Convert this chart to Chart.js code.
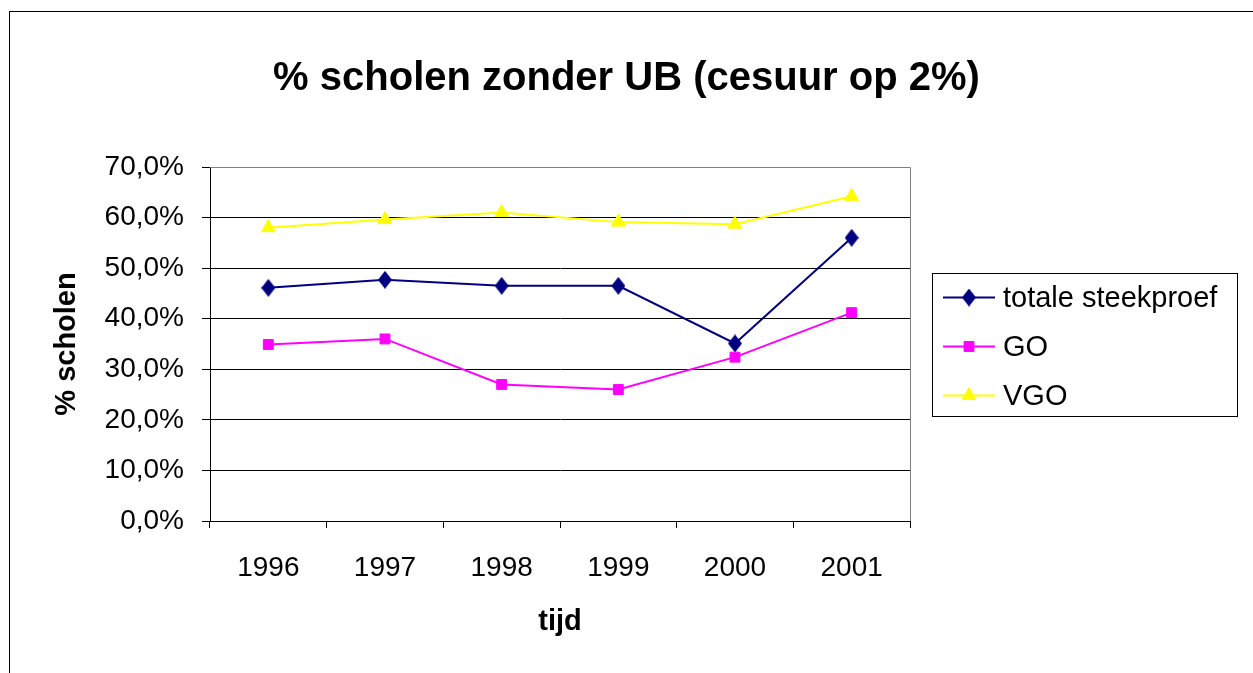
<!DOCTYPE html>
<html>
<head>
<meta charset="utf-8">
<script src="https://cdn.jsdelivr.net/npm/chart.js@4.4.1/dist/chart.umd.min.js"></script>
<style>
    html, body { margin: 0; padding: 0; background: #fff; overflow: hidden; }
    #wrap { position: relative; width: 1253px; height: 673px; }
    #frame {
        position: absolute; left: 9px; top: 11px; width: 1300px; height: 700px;
        border-left: 1px solid #000; border-top: 1px solid #000;
    }
    canvas { position: absolute; left: 0; top: 0; }
</style>
</head>
<body>
<div id="wrap">
    <div id="frame"></div>
    <canvas id="chart" width="1253" height="673"></canvas>
</div>
<script>
const years = ['1996', '1997', '1998', '1999', '2000', '2001'];
const totaal = [46.1, 47.7, 46.5, 46.5, 35.1, 56.0];
const go = [34.9, 36.0, 27.0, 26.0, 32.4, 41.2];
const vgo = [58.0, 59.6, 61.0, 59.1, 58.7, 64.2];
const seriesNames = ['totale steekproef', 'GO', 'VGO'];

const FONT = 'Arial, "Liberation Sans", sans-serif';

// Excel style diamond: a bit taller than wide
function diamond(color) {
    const c = document.createElement('canvas');
    c.width = 14; c.height = 18;
    const g = c.getContext('2d');
    g.fillStyle = color;
    g.beginPath();
    g.moveTo(7, 0); g.lineTo(14, 9); g.lineTo(7, 18); g.lineTo(0, 9);
    g.closePath();
    g.fill();
    return c;
}

// plot area border (grey) like the old Excel charts
const plotBorder = {
    id: 'plotBorder',
    afterDraw(chart) {
        const { ctx, chartArea: a } = chart;
        ctx.save();
        ctx.strokeStyle = '#808080';
        ctx.lineWidth = 1;
        ctx.beginPath();
        ctx.moveTo(a.left, a.top + 0.5);
        ctx.lineTo(a.right + 0.5, a.top + 0.5);
        ctx.lineTo(a.right + 0.5, a.bottom);
        ctx.stroke();
        ctx.restore();
    }
};

// boxed legend to the right of the plot
const boxLegend = {
    id: 'boxLegend',
    afterDraw(chart) {
        const { ctx, chartArea: a } = chart;
        const x = a.right + 22, w = 305, h = 143;
        const y = (a.top + a.bottom) / 2 - h / 2;
        ctx.save();
        ctx.strokeStyle = '#000';
        ctx.lineWidth = 1;
        ctx.strokeRect(Math.round(x) + 0.5, Math.round(y) + 0.5, w, h);
        ctx.font = '29px ' + FONT;
        ctx.textBaseline = 'middle';
        chart.data.datasets.forEach((ds, i) => {
            const cy = y + 25 + i * 49;
            ctx.strokeStyle = ds.borderColor;
            ctx.lineWidth = 2;
            ctx.beginPath();
            ctx.moveTo(x + 11, cy);
            ctx.lineTo(x + 63, cy);
            ctx.stroke();
            ctx.fillStyle = ds.pointBackgroundColor;
            ctx.strokeStyle = ds.pointBorderColor;
            ctx.lineWidth = 1;
            Chart.helpers.drawPoint(ctx, {
                pointStyle: ds.pointStyle, radius: ds.pointRadius, rotation: 0, borderWidth: 1
            }, x + 37, cy);
            ctx.fillStyle = '#000';
            ctx.fillText(ds.label, x + 71, cy + 1);
        });
        ctx.restore();
    }
};

function makeSet(label, data, color, style, r) {
    return {
        label: label,
        data: data,
        borderColor: color,
        backgroundColor: color,
        pointBackgroundColor: color,
        pointBorderColor: color,
        pointStyle: style,
        pointRadius: r,
        pointBorderWidth: 1,
        borderWidth: 2,
        tension: 0
    };
}

new Chart(document.getElementById('chart'), {
    type: 'line',
    data: {
        labels: years,
        datasets: [
            makeSet(seriesNames[0], totaal, '#000080', diamond('#000080'), 7),
            makeSet(seriesNames[1], go, '#FF00FF', 'rect', 7),
            makeSet(seriesNames[2], vgo, '#FFFF00', 'triangle', 8)
        ]
    },
    options: {
        responsive: false,
        animation: false,
        layout: { padding: 0 },
        plugins: {
            legend: { display: false },
            tooltip: { enabled: false },
            title: {
                display: true,
                text: '% scholen zonder UB (cesuur op 2%)',
                color: '#000',
                font: { family: FONT, size: 40, weight: 'bold', lineHeight: 1.2 },
                padding: { top: 55, bottom: 64 }
            }
        },
        scales: {
            x: {
                offset: true,
                afterFit(scale) { scale.height = 152; },
                grid: {
                    offset: true,
                    drawOnChartArea: false,
                    drawTicks: true,
                    tickLength: 7,
                    color: '#000'
                },
                border: { display: true, color: '#000', width: 1 },
                ticks: {
                    color: '#000',
                    padding: 23,
                    font: { family: FONT, size: 28 }
                },
                title: {
                    display: true,
                    text: 'tijd',
                    color: '#000',
                    font: { family: FONT, size: 29, weight: 'bold', lineHeight: 1.2 },
                    padding: { top: 0, bottom: 34 }
                }
            },
            y: {
                min: 0,
                max: 70,
                afterFit(scale) { scale.width = 210; },
                grid: {
                    color: '#000',
                    lineWidth: 1,
                    drawTicks: true,
                    tickLength: 8
                },
                border: { display: true, color: '#000', width: 1 },
                ticks: {
                    stepSize: 10,
                    color: '#000',
                    padding: 18,
                    font: { family: FONT, size: 28 },
                    callback: v => v.toFixed(1).replace('.', ',') + '%'
                },
                title: {
                    display: true,
                    text: '% scholen',
                    color: '#000',
                    font: { family: FONT, size: 29, weight: 'bold', lineHeight: 1.2 },
                    padding: { top: 50, bottom: 0 }
                }
            },
            // empty right-hand axis that reserves room for the legend box
            legendSpace: {
                position: 'right',
                afterFit(scale) { scale.width = 343; },
                grid: { drawOnChartArea: false, drawTicks: false },
                border: { display: false },
                ticks: { display: false }
            }
        }
    },
    plugins: [plotBorder, boxLegend]
});
</script>
</body>
</html>
